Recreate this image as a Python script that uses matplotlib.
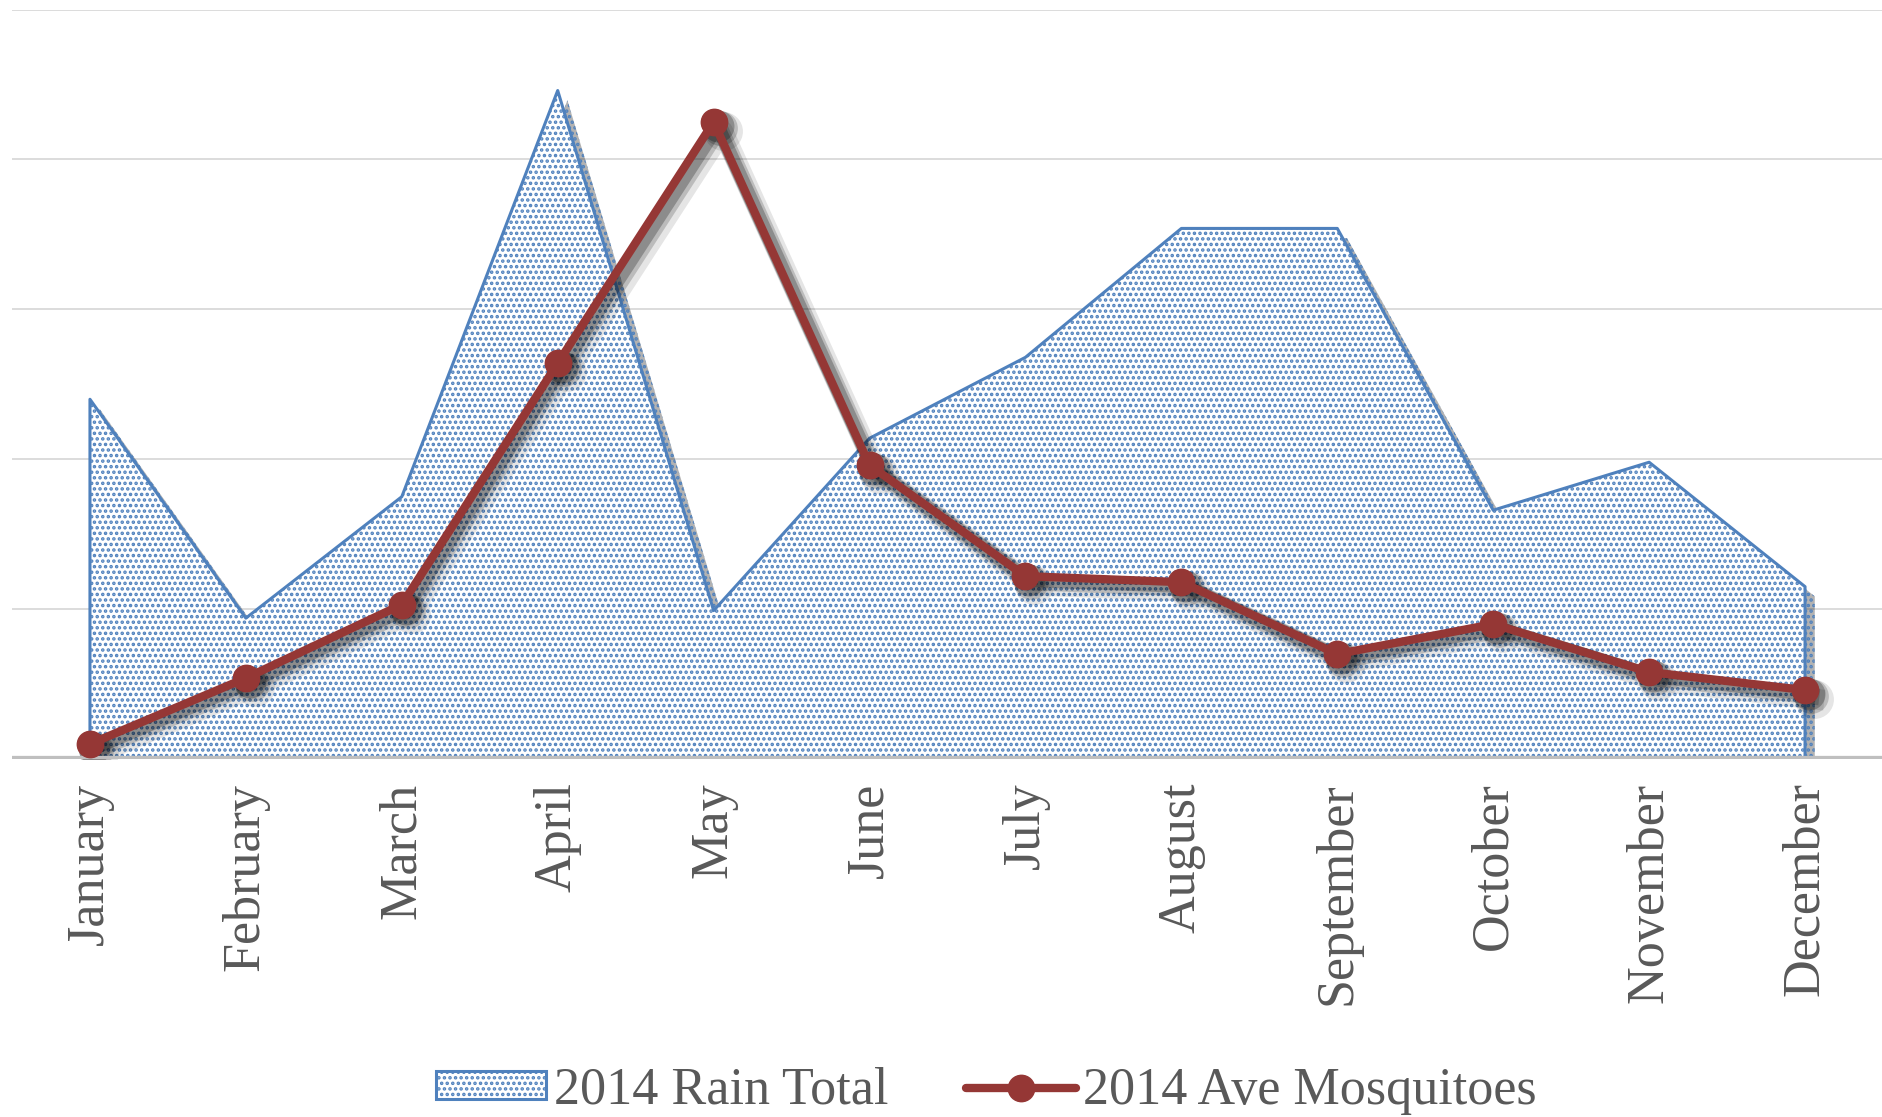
import matplotlib
matplotlib.use("Agg")
import matplotlib.pyplot as plt
import matplotlib.patheffects as pe
import matplotlib.transforms as mtransforms
import numpy as np

months = ["January", "February", "March", "April", "May", "June",
          "July", "August", "September", "October", "November", "December"]
rain_total = [2.40, 0.94, 1.75, 4.46, 0.99, 2.14, 2.68, 3.54, 3.54, 1.66, 1.98, 1.15]
ave_mosquitoes = [0.10, 0.54, 1.03, 2.64, 4.25, 1.96, 1.22, 1.18, 0.70, 0.90, 0.58, 0.46]

blue = "#4F81BD"
red = "#953735"
txt = "#595959"

plt.rcParams["font.family"] = ["Liberation Serif", "DejaVu Serif"]
plt.rcParams["hatch.linewidth"] = 1.7

fig = plt.figure(figsize=(18.83, 11.17), dpi=100)
ax = fig.add_axes([12 / 1883, 1 - 759 / 1117, 1 - 12 / 1883, (759 - 9.6) / 1117])

x = np.arange(len(months))

for g in [1, 2, 3, 4, 5]:
    ax.axhline(g, color="#D9D9D9", lw=1.3, zorder=0)

area = ax.fill_between(x, 0, rain_total, facecolor="white", edgecolor=blue,
                       hatch="...", linewidth=2.2, zorder=2,
                       label="2014 Rain Total")
area.set_path_effects([pe.SimplePatchShadow(offset=(7, -7), shadow_rgbFace="black", alpha=0.3),
                       pe.Normal()])

# soft shadow under the mosquito line
for k, a in [(9, 0.10), (6, 0.18), (4, 0.25)]:
    sh = mtransforms.offset_copy(ax.transData, fig=fig, x=k, y=-k, units="dots")
    ax.plot(x, ave_mosquitoes, color="black", alpha=a, lw=6 + k, marker="o",
            markersize=19 + k, markeredgewidth=0, transform=sh, zorder=3)

ln, = ax.plot(x, ave_mosquitoes, color=red, lw=6, marker="o", markersize=19,
              zorder=4, label="2014 Ave Mosquitoes", solid_capstyle="round")

ax.axhline(0, color="#BFBFBF", lw=4.5, zorder=3.5)

ax.set_xlim(-0.5, 11.5)
ax.set_ylim(0, 5)
ax.set_yticks([])
ax.set_xticks(x)
ax.set_xticklabels(months, rotation=90, fontsize=37.5, color=txt, va="top", ha="center")
ax.tick_params(axis="x", length=0, pad=17)
for s in ax.spines.values():
    s.set_visible(False)

leg = fig.legend(handles=[area, ln], loc="lower center", bbox_to_anchor=(0.524, -0.04),
                 ncol=2, frameon=False, fontsize=37.5, handlelength=2.1, handleheight=0.45,
                 handletextpad=0.15, columnspacing=1.5, labelcolor=txt)

fig.savefig("out.png", dpi=100)
